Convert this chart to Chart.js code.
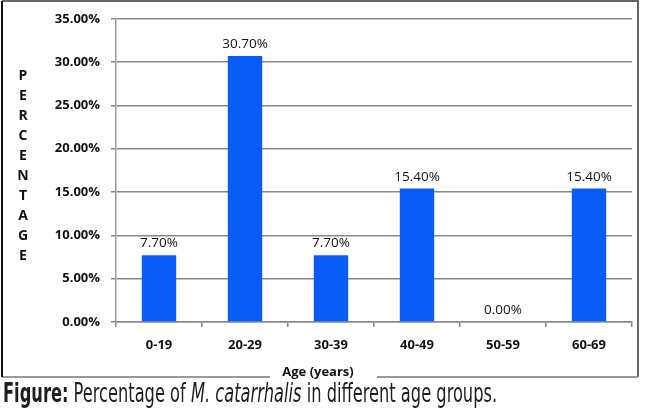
<!DOCTYPE html>
<html>
<head>
<meta charset="utf-8">
<script src="https://cdn.jsdelivr.net/npm/chart.js@4.4.0/dist/chart.umd.min.js"></script>
<style>
  html, body { margin: 0; padding: 0; background: #fff; }
  #wrap { position: relative; width: 650px; height: 412px; overflow: hidden; }
  #caption {
    position: absolute; left: 3px; top: 380px;
    font-family: "Liberation Sans Narrow", "DejaVu Sans Condensed", sans-serif;
    font-size: 26px; line-height: 26px; color: #1d1f1e;
    white-space: nowrap; transform-origin: 0 0;
  }
</style>
</head>
<body>
<div id="wrap">
  <canvas id="ageChart"></canvas>
  <div id="caption"><b>Figure:</b> Percentage of <i>M. catarrhalis</i> in different age groups.</div>
</div>
<script>
// data
const ageGroups = ['0-19', '20-29', '30-39', '40-49', '50-59', '60-69'];
const percentages = [7.7, 30.7, 7.7, 15.4, 0, 15.4];
const yTitle = 'PERCENTAGE';
const xTitle = 'Age (years)';

const FONT = '"Open Sans", "Liberation Sans", sans-serif';

// squeeze caption to the width it has in the figure
const cap = document.getElementById('caption');
cap.style.transform = 'scaleX(' + (494 / cap.offsetWidth) + ')';

// frame, titles and value labels
const decor = {
  id: 'decor',
  beforeDraw(chart) {
    const ctx = chart.ctx;
    ctx.save();
    ctx.lineWidth = 2;
    ctx.strokeStyle = '#666';
    ctx.beginPath();
    ctx.moveTo(2, 1); ctx.lineTo(638, 1); ctx.lineTo(638, 377);
    ctx.stroke();
    ctx.strokeStyle = '#999';
    ctx.beginPath();
    ctx.moveTo(638, 377); ctx.lineTo(2, 377);
    ctx.stroke();
    ctx.strokeStyle = '#111';
    ctx.beginPath();
    ctx.moveTo(2, 377); ctx.lineTo(2, 1);
    ctx.stroke();
    ctx.restore();
  },
  afterDraw(chart) {
    const ctx = chart.ctx;
    ctx.save();
    // stacked y title
    ctx.fillStyle = '#111';
    ctx.font = 'bold 14px ' + FONT;
    ctx.textAlign = 'center';
    ctx.textBaseline = 'middle';
    yTitle.split('').forEach((ch, i) => ctx.fillText(ch, 23, 76 + i * 20));
    // x title sitting on the frame
    ctx.fillStyle = '#fff';
    ctx.fillRect(270, 366, 107, 14);
    ctx.fillStyle = '#111';
    ctx.font = 'bold 13px ' + FONT;
    ctx.fillText(xTitle, 318, 372);
    ctx.restore();
  },
  afterDatasetsDraw(chart) {
    const ctx = chart.ctx;
    const meta = chart.getDatasetMeta(0);
    ctx.save();
    ctx.fillStyle = '#111';
    ctx.font = '13.5px ' + FONT;
    ctx.textAlign = 'center';
    ctx.textBaseline = 'alphabetic';
    meta.data.forEach((bar, i) => {
      ctx.fillText(percentages[i].toFixed(2) + '%', bar.x, bar.y - 8);
    });
    ctx.restore();
  }
};

new Chart(document.getElementById('ageChart'), {
  type: 'bar',
  data: {
    labels: ageGroups,
    datasets: [{
      data: percentages,
      backgroundColor: '#0a5cf6',
      borderWidth: 0,
      barPercentage: 0.4,
      categoryPercentage: 1
    }]
  },
  options: {
    responsive: true,
    maintainAspectRatio: false,
    animation: false,
    layout: { padding: { left: 0, top: 16, right: 18, bottom: 0 } },
    plugins: { legend: { display: false }, tooltip: { enabled: false } },
    scales: {
      y: {
        min: 0,
        max: 35,
        afterFit(scale) { scale.width = 116; },
        ticks: {
          stepSize: 5,
          padding: 11,
          color: '#111',
          font: { family: FONT, size: 13, weight: 'bold' },
          callback: v => v.toFixed(2) + '%'
        },
        grid: { color: '#858a87', lineWidth: 1.5, tickLength: 5 },
        border: { color: '#9a9a9a', width: 1.5 }
      },
      x: {
        afterFit(scale) { scale.height = 90; },
        ticks: {
          padding: 10,
          color: '#111',
          font: { family: FONT, size: 13, weight: 'bold' }
        },
        grid: { drawOnChartArea: false, color: '#888', lineWidth: 1.5, tickLength: 5, offset: true },
        border: { color: '#858a87', width: 1.5 }
      }
    }
  },
  plugins: [decor]
});
</script>
</body>
</html>
